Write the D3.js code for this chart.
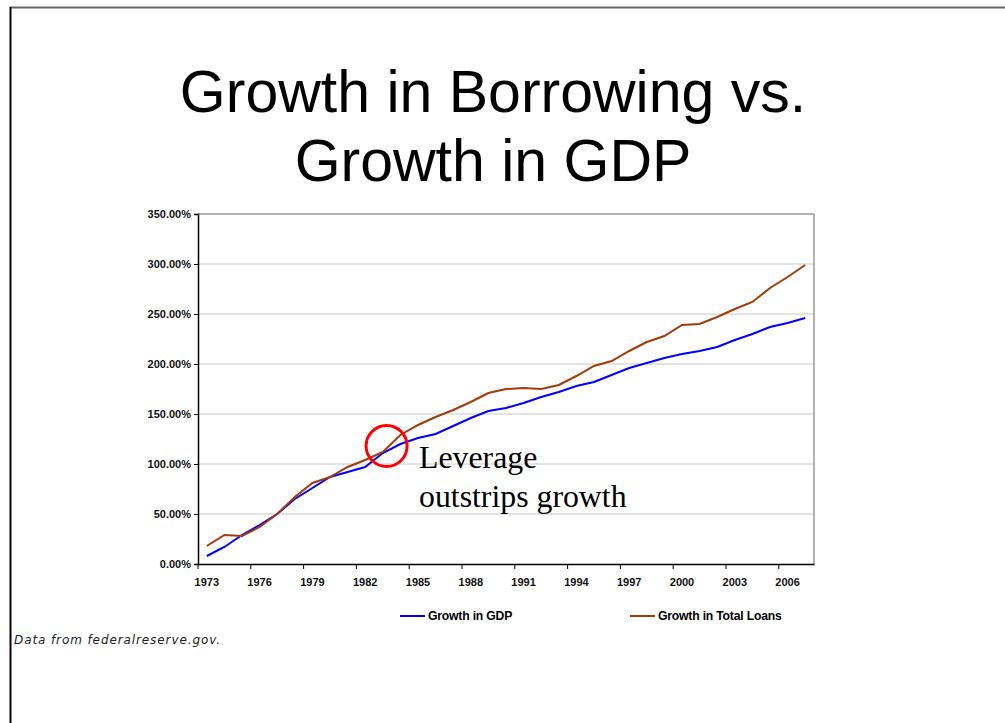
<!DOCTYPE html>
<html>
<head>
<meta charset="utf-8">
<script src="https://cdn.jsdelivr.net/npm/d3@7"></script>
<style>
  body { margin: 0; background: #fff; }
  svg { display: block; }
</style>
</head>
<body>
<svg id="chart" width="1005" height="723"></svg>
<script>
const years = d3.range(1973, 2008);
const gdp = [8, 17, 29, 39, 50, 65, 76, 87, 92, 97, 111, 120, 126, 130, 138, 146, 153, 156,
  161, 167, 172, 178, 182, 189, 196, 201, 206, 210, 213, 217, 224, 230, 237, 241, 246];
const loans = [18, 29, 28, 37, 50, 67, 81, 87, 97, 104, 112, 129, 139, 147, 154, 162, 171, 175,
  176, 175, 179, 188, 198, 203, 213, 222, 228, 239, 240, 247, 255, 262, 276, 287, 299];
const yTicks = [0, 50, 100, 150, 200, 250, 300, 350];
const xLabels = [1973, 1976, 1979, 1982, 1985, 1988, 1991, 1994, 1997, 2000, 2003, 2006];

const svg = d3.select("#chart");
const plot = { left: 198, right: 814, top: 214, bottom: 564 };

// slide frame
svg.append("line").attr("x1", 10).attr("x2", 1005).attr("y1", 7.5).attr("y2", 7.5)
  .style("stroke", "#666").style("stroke-width", 2);
svg.append("line").attr("x1", 10.5).attr("x2", 10.5).attr("y1", 7).attr("y2", 723)
  .style("stroke", "#000").style("stroke-width", 2);

// title
svg.append("text")
  .style("font-family", "Arial, 'Liberation Sans', sans-serif")
  .style("font-size", "59px")
  .style("text-anchor", "middle")
  .selectAll("tspan")
  .data(["Growth in Borrowing vs.", "Growth in GDP"])
  .enter().append("tspan")
  .attr("x", 493)
  .attr("y", (d, i) => 112 + i * 69)
  .text(d => d);

const x = d3.scaleBand().domain(years).range([plot.left, plot.right]).padding(0);
const y = d3.scaleLinear().domain([0, 350]).range([plot.bottom, plot.top]);

// gridlines
svg.append("g").selectAll("line")
  .data(yTicks.filter(d => d > 0))
  .enter().append("line")
  .attr("x1", plot.left).attr("x2", plot.right)
  .attr("y1", d => y(d)).attr("y2", d => y(d))
  .style("stroke", d => d === 350 ? "#999" : "#c8c8c8")
  .style("stroke-width", d => d === 350 ? 1.5 : 1);

// right border
svg.append("line")
  .attr("x1", plot.right).attr("x2", plot.right)
  .attr("y1", plot.top).attr("y2", plot.bottom)
  .style("stroke", "#999").style("stroke-width", 1.5);

// y axis
const yAxis = svg.append("g")
  .attr("transform", `translate(${plot.left},0)`)
  .call(d3.axisLeft(y).tickValues(yTicks).tickSize(4).tickPadding(3)
    .tickFormat(d => d.toFixed(2) + "%"));
yAxis.select(".domain").style("stroke", "#000").style("stroke-width", 1.5);
yAxis.selectAll(".tick line").style("stroke", "#000");
yAxis.selectAll("text")
  .style("font-family", "Arial, 'Liberation Sans', sans-serif")
  .style("font-size", "11px").style("font-weight", "bold").style("fill", "#111");

// x axis
const xAxis = svg.append("g")
  .attr("transform", `translate(0,${plot.bottom})`)
  .call(d3.axisBottom(x).tickValues(xLabels).tickSize(0).tickPadding(14));
xAxis.select(".domain").style("stroke", "#000").style("stroke-width", 1.5);
xAxis.selectAll("text")
  .style("font-family", "Arial, 'Liberation Sans', sans-serif")
  .style("font-size", "11px").style("font-weight", "bold").style("fill", "#111");
// tick marks between categories, every third
xAxis.selectAll(".cat-tick")
  .data(xLabels)
  .enter().append("line")
  .attr("x1", d => x(d)).attr("x2", d => x(d))
  .attr("y1", 0).attr("y2", 5)
  .style("stroke", "#000");

// series
const line = d3.line()
  .x((d, i) => x(years[i]) + x.bandwidth() / 2)
  .y(d => y(d));

svg.append("path").datum(gdp).attr("d", line)
  .style("fill", "none").style("stroke", "#0000ff").style("stroke-width", 2);
svg.append("path").datum(loans).attr("d", line)
  .style("fill", "none").style("stroke", "#a03c0a").style("stroke-width", 2);

// annotation
svg.append("circle")
  .attr("cx", x(1984) - 5).attr("cy", 446).attr("r", 20.5)
  .style("fill", "none").style("stroke", "#ff0000").style("stroke-width", 3);
svg.append("text")
  .style("font-family", "'Times New Roman', 'Liberation Serif', serif")
  .style("font-size", "31.8px")
  .style("fill", "#000")
  .selectAll("tspan")
  .data(["Leverage", "outstrips growth"])
  .enter().append("tspan")
  .attr("x", 419)
  .attr("y", (d, i) => 468 + i * 38.5)
  .text(d => d);

// legend
const legendItems = [
  { name: "Growth in GDP", color: "#0000ff", x: 400 },
  { name: "Growth in Total Loans", color: "#a03c0a", x: 630 }
];
const legend = svg.append("g").selectAll("g")
  .data(legendItems)
  .enter().append("g")
  .attr("transform", d => `translate(${d.x},616)`);
legend.append("line")
  .attr("x1", 0).attr("x2", 25)
  .style("stroke", d => d.color).style("stroke-width", 2);
legend.append("text")
  .attr("x", 28).attr("dy", "0.35em")
  .style("font-family", "Arial, 'Liberation Sans', sans-serif")
  .style("font-size", "12.2px").style("font-weight", "bold")
  .style("letter-spacing", "-0.2px")
  .text(d => d.name);

// source note
svg.append("text")
  .attr("x", 14).attr("y", 644)
  .style("font-family", "'DejaVu Sans', Verdana, sans-serif")
  .style("font-size", "12px").style("font-style", "italic")
  .style("letter-spacing", "0.9px")
  .style("fill", "#222")
  .text("Data from federalreserve.gov.");
</script>
</body>
</html>
